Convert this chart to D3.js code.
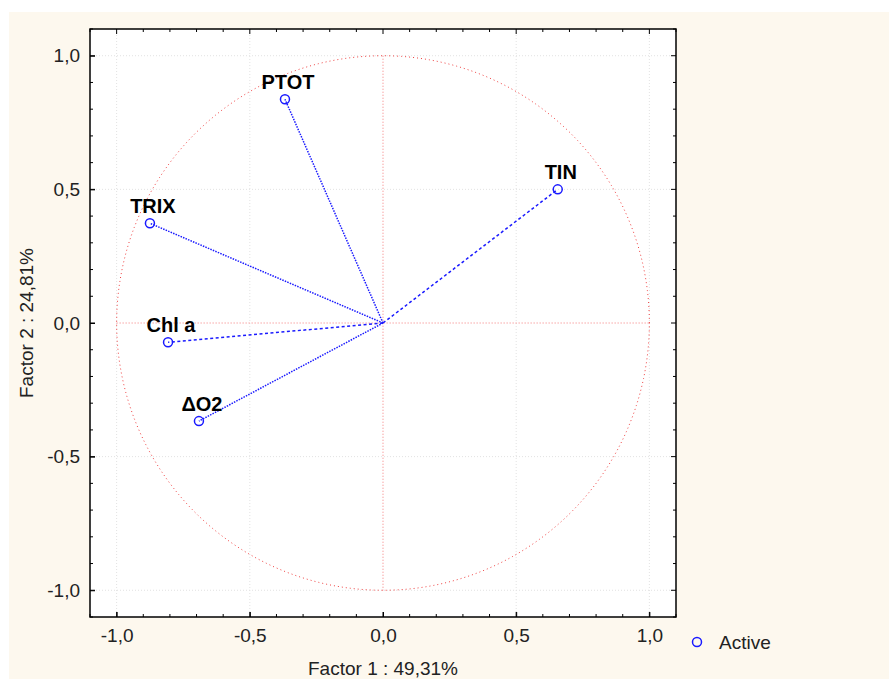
<!DOCTYPE html>
<html>
<head>
<meta charset="utf-8">
<script src="https://cdn.jsdelivr.net/npm/d3@7"></script>
<style>
  body { margin: 0; background: #fff; }
  text { font-family: Arial, "Liberation Sans", sans-serif; }
</style>
</head>
<body>
<script>
// Variables (loadings on factor 1 and factor 2)
const variables = ["PTOT", "TIN", "TRIX", "Chl a", "ΔO2"];
const factor1 = [-0.368, 0.656, -0.875, -0.807, -0.691];
const factor2 = [0.837, 0.500, 0.373, -0.072, -0.367];
const lineDash = ["1.5,1.2", "3,2.5", "1.5,1.2", "3,2.5", "1.5,1.2"];

const majorTicks = [-1.0, -0.5, 0.0, 0.5, 1.0];
const tickLabels = ["-1,0", "-0,5", "0,0", "0,5", "1,0"];
const xTitle = "Factor 1 : 49,31%";
const yTitle = "Factor 2 : 24,81%";
const legendLabel = "Active";

const width = 890, height = 679;
const plot = { left: 90, top: 29, right: 676, bottom: 617 };

const svg = d3.select("body").append("svg")
    .attr("width", width)
    .attr("height", height);

// Cream page background
svg.append("rect")
    .attr("x", 9).attr("y", 12)
    .attr("width", 880).attr("height", 667)
    .attr("fill", "#fdf8ee");

svg.append("rect")
    .attr("x", plot.left).attr("y", plot.top)
    .attr("width", plot.right - plot.left).attr("height", plot.bottom - plot.top)
    .attr("fill", "#fff");

const x = d3.scaleLinear().domain([-1.1, 1.1]).range([plot.left, plot.right]);
const y = d3.scaleLinear().domain([-1.1, 1.1]).range([plot.bottom, plot.top]);

const minorTicks = d3.range(-11, 12).map(d => d / 10);

// Gridlines
const grid = svg.append("g");
majorTicks.filter(d => d !== 0).forEach(t => {
    grid.append("line")
        .attr("x1", x(t)).attr("x2", x(t))
        .attr("y1", plot.top).attr("y2", plot.bottom)
        .attr("stroke", "#e2e2e2").attr("stroke-dasharray", "1,2");
    grid.append("line")
        .attr("x1", plot.left).attr("x2", plot.right)
        .attr("y1", y(t)).attr("y2", y(t))
        .attr("stroke", "#e2e2e2").attr("stroke-dasharray", "1,2");
});

// Red zero lines and unit circle
svg.append("line")
    .attr("x1", x(0)).attr("x2", x(0))
    .attr("y1", y(1)).attr("y2", y(-1))
    .attr("stroke", "#f47a7a").attr("stroke-dasharray", "1,2");
svg.append("line")
    .attr("x1", x(-1)).attr("x2", x(1))
    .attr("y1", y(0)).attr("y2", y(0))
    .attr("stroke", "#f47a7a").attr("stroke-dasharray", "1,2");

const circlePts = d3.range(0, 361, 1).map(a => [Math.cos(a * Math.PI / 180), Math.sin(a * Math.PI / 180)]);
svg.append("path")
    .attr("d", d3.line().x(d => x(d[0])).y(d => y(d[1]))(circlePts))
    .attr("fill", "none")
    .attr("stroke", "#f04040")
    .attr("stroke-width", 1)
    .attr("stroke-dasharray", "1,3");

// Vectors
const data = variables.map((name, i) => ({ name, f1: factor1[i], f2: factor2[i], dash: lineDash[i] }));

svg.append("g").selectAll("line")
    .data(data)
    .enter().append("line")
    .attr("x1", x(0)).attr("y1", y(0))
    .attr("x2", d => x(d.f1)).attr("y2", d => y(d.f2))
    .attr("stroke", "#1a1aff")
    .attr("stroke-width", 1.5)
    .attr("stroke-dasharray", d => d.dash);

svg.append("g").selectAll("circle")
    .data(data)
    .enter().append("circle")
    .attr("cx", d => x(d.f1)).attr("cy", d => y(d.f2))
    .attr("r", 4.5)
    .attr("fill", "none")
    .attr("stroke", "#1a1aff")
    .attr("stroke-width", 1.5);

svg.append("g").selectAll("text")
    .data(data)
    .enter().append("text")
    .attr("x", d => x(d.f1) + 3).attr("y", d => y(d.f2) - 10)
    .attr("text-anchor", "middle")
    .attr("font-size", 20)
    .attr("font-weight", "bold")
    .attr("fill", "#000")
    .text(d => d.name);

// Axes (ticks pointing inward)
const fmt = d => tickLabels[majorTicks.indexOf(d)];
const axisBottom = d3.axisBottom(x).tickValues(majorTicks).tickFormat(fmt).tickSizeInner(-5).tickSizeOuter(0).tickPadding(12);
const axisLeft = d3.axisLeft(y).tickValues(majorTicks).tickFormat(fmt).tickSizeInner(-5).tickSizeOuter(0).tickPadding(10);

const gx = svg.append("g").attr("transform", `translate(0,${plot.bottom})`).call(axisBottom);
const gy = svg.append("g").attr("transform", `translate(${plot.left},0)`).call(axisLeft);
[gx, gy].forEach(g => {
    g.select(".domain").remove();
    g.selectAll("text").attr("font-size", 19).attr("fill", "#222").attr("font-family", "Arial, 'Liberation Sans', sans-serif");
    g.selectAll("line").attr("stroke", "#000");
});

// Minor ticks on all four sides
const ticks = svg.append("g").attr("stroke", "#000");
minorTicks.forEach(t => {
    const len = Math.abs(Math.round(t * 10) % 5) === 0 ? 5 : 3;
    ticks.append("line").attr("x1", x(t)).attr("x2", x(t)).attr("y1", plot.top).attr("y2", plot.top + len);
    ticks.append("line").attr("x1", x(t)).attr("x2", x(t)).attr("y1", plot.bottom).attr("y2", plot.bottom - len);
    ticks.append("line").attr("y1", y(t)).attr("y2", y(t)).attr("x1", plot.left).attr("x2", plot.left + len);
    ticks.append("line").attr("y1", y(t)).attr("y2", y(t)).attr("x1", plot.right).attr("x2", plot.right - len);
});

// Frame
svg.append("rect")
    .attr("x", plot.left).attr("y", plot.top)
    .attr("width", plot.right - plot.left).attr("height", plot.bottom - plot.top)
    .attr("fill", "none")
    .attr("stroke", "#000")
    .attr("stroke-width", 1.5);

// Axis titles
svg.append("text")
    .attr("x", x(0)).attr("y", 675)
    .attr("text-anchor", "middle")
    .attr("font-size", 19)
    .attr("fill", "#222")
    .text(xTitle);

svg.append("text")
    .attr("transform", `translate(33,${y(0)}) rotate(-90)`)
    .attr("text-anchor", "middle")
    .attr("font-size", 19)
    .attr("fill", "#222")
    .text(yTitle);

// Legend
svg.append("circle")
    .attr("cx", 697).attr("cy", 642)
    .attr("r", 4.5)
    .attr("fill", "none")
    .attr("stroke", "#1a1aff")
    .attr("stroke-width", 1.5);
svg.append("text")
    .attr("x", 719).attr("y", 649)
    .attr("font-size", 19)
    .attr("fill", "#222")
    .text(legendLabel);
</script>
</body>
</html>
